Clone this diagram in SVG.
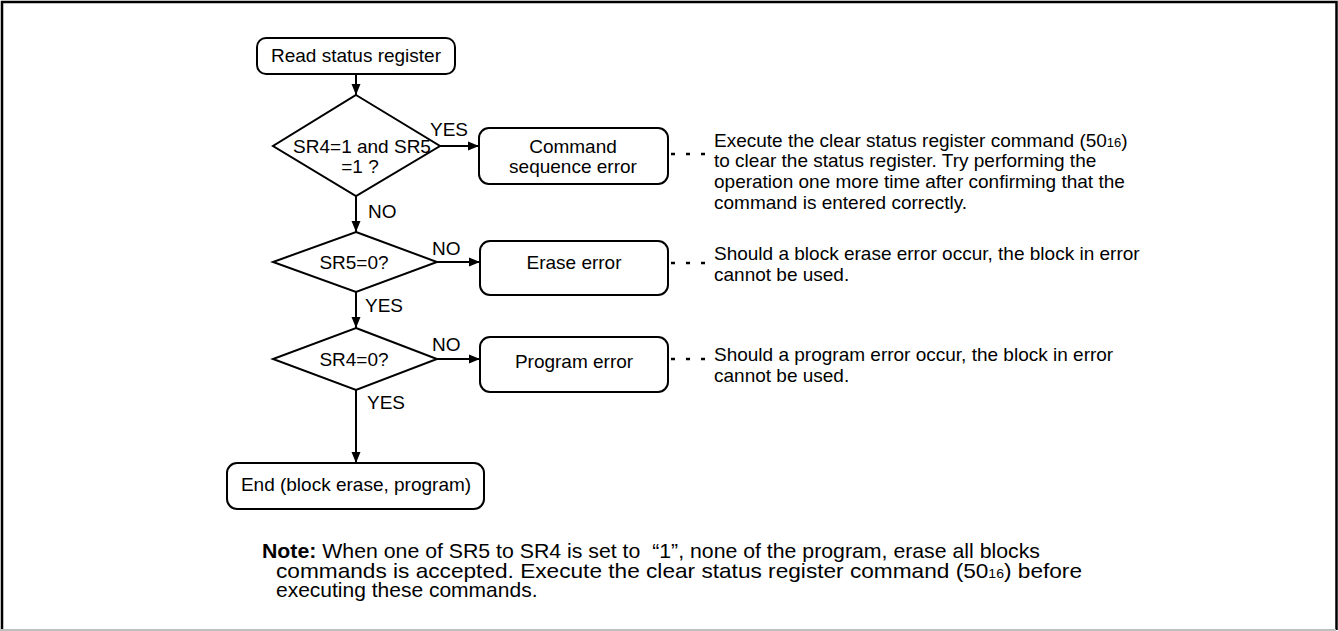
<svg xmlns="http://www.w3.org/2000/svg" width="1338" height="631" viewBox="0 0 1338 631">
<style>
text{font-family:"Liberation Sans",Arial,sans-serif;font-size:19px;fill:#000}
.c{text-anchor:middle}
.box{fill:#fff;stroke:#000;stroke-width:2}
.ln{fill:none;stroke:#000;stroke-width:2}
.dot{fill:none;stroke:#000;stroke-width:2.5;stroke-dasharray:4 11}
.note{font-size:21px}
.sub{font-size:13px}
</style>
<defs>
<marker id="ah" markerUnits="userSpaceOnUse" markerWidth="12" markerHeight="12" viewBox="0 0 12 12" refX="11" refY="6" orient="auto">
<path d="M0,1.5 L11,6 L0,10.5 Z" fill="#000"/>
</marker>
</defs>
<rect x="0" y="0" width="1338" height="631" fill="#fff"/>
<path d="M2,631 V2 H1336.5 V630" fill="none" stroke="#000" stroke-width="2.5"/>
<line x1="0" y1="630" x2="1336" y2="630" stroke="#bfbfbf" stroke-width="2"/>

<g id="connectors">
<line class="ln" x1="356" y1="74" x2="356" y2="95" marker-end="url(#ah)"/>
<line class="ln" x1="440" y1="146" x2="479" y2="146" marker-end="url(#ah)"/>
<line class="ln" x1="356" y1="196" x2="356" y2="232" marker-end="url(#ah)"/>
<line class="ln" x1="437" y1="262" x2="480" y2="262" marker-end="url(#ah)"/>
<line class="ln" x1="356" y1="292" x2="356" y2="328" marker-end="url(#ah)"/>
<line class="ln" x1="437" y1="359" x2="480" y2="359" marker-end="url(#ah)"/>
<line class="ln" x1="356" y1="390" x2="356" y2="463" marker-end="url(#ah)"/>
<line class="dot" x1="671" y1="154" x2="706" y2="154"/>
<line class="dot" x1="671" y1="263" x2="706" y2="263"/>
<line class="dot" x1="671" y1="359" x2="706" y2="359"/>
<text x="430" y="136">YES</text>
<text x="368" y="218">NO</text>
<text x="432" y="255">NO</text>
<text x="365" y="312">YES</text>
<text x="432" y="351">NO</text>
<text x="367" y="409">YES</text>
</g>

<g id="start">
<rect class="box" x="257" y="38" width="198" height="36" rx="9"/>
<text class="c" x="356" y="62">Read status register</text>
</g>

<g id="dec1">
<polygon class="box" points="356,95 440,146 356,196 273,146"/>
<text class="c" x="362" y="153">SR4=1 and SR5</text>
<text class="c" x="360" y="173">=1 ?</text>
</g>

<g id="cmdErr">
<rect class="box" x="479" y="128" width="189" height="56" rx="10"/>
<text class="c" x="573" y="153">Command</text>
<text class="c" x="573" y="173">sequence error</text>
</g>

<g id="note1">
<text x="714" y="146.5">Execute the clear status register command (50<tspan class="sub">16</tspan>)</text>
<text x="714" y="167.3">to clear the status register. Try performing the</text>
<text x="714" y="188.1">operation one more time after confirming that the</text>
<text x="714" y="208.9">command is entered correctly.</text>
</g>

<g id="dec2">
<polygon class="box" points="356,232 437,262 356,292 273,262"/>
<text class="c" x="354" y="269">SR5=0?</text>
</g>

<g id="eraseErr">
<rect class="box" x="480" y="241" width="188" height="54" rx="10"/>
<text class="c" x="574" y="269">Erase error</text>
</g>

<g id="note2">
<text x="714" y="260">Should a block erase error occur, the block in error</text>
<text x="714" y="280.8">cannot be used.</text>
</g>

<g id="dec3">
<polygon class="box" points="356,328 437,359 356,390 273,359"/>
<text class="c" x="354" y="366">SR4=0?</text>
</g>

<g id="progErr">
<rect class="box" x="480" y="337" width="188" height="55" rx="10"/>
<text class="c" x="574" y="368">Program error</text>
</g>

<g id="note3">
<text x="714" y="361">Should a program error occur, the block in error</text>
<text x="714" y="381.8">cannot be used.</text>
</g>

<g id="end">
<rect class="box" x="227" y="463" width="257" height="46" rx="10"/>
<text class="c" x="356" y="491">End (block erase, program)</text>
</g>

<g id="footnote">
<text class="note" x="262" y="558" textLength="778" lengthAdjust="spacingAndGlyphs" xml:space="preserve"><tspan font-weight="bold">Note:</tspan> When one of SR5 to SR4 is set to  “1”, none of the program, erase all blocks</text>
<text class="note" x="276" y="577.5" textLength="806" lengthAdjust="spacingAndGlyphs">commands is accepted. Execute the clear status register command (50<tspan class="sub">16</tspan>) before</text>
<text class="note" x="276" y="597">executing these commands.</text>
</g>
</svg>
